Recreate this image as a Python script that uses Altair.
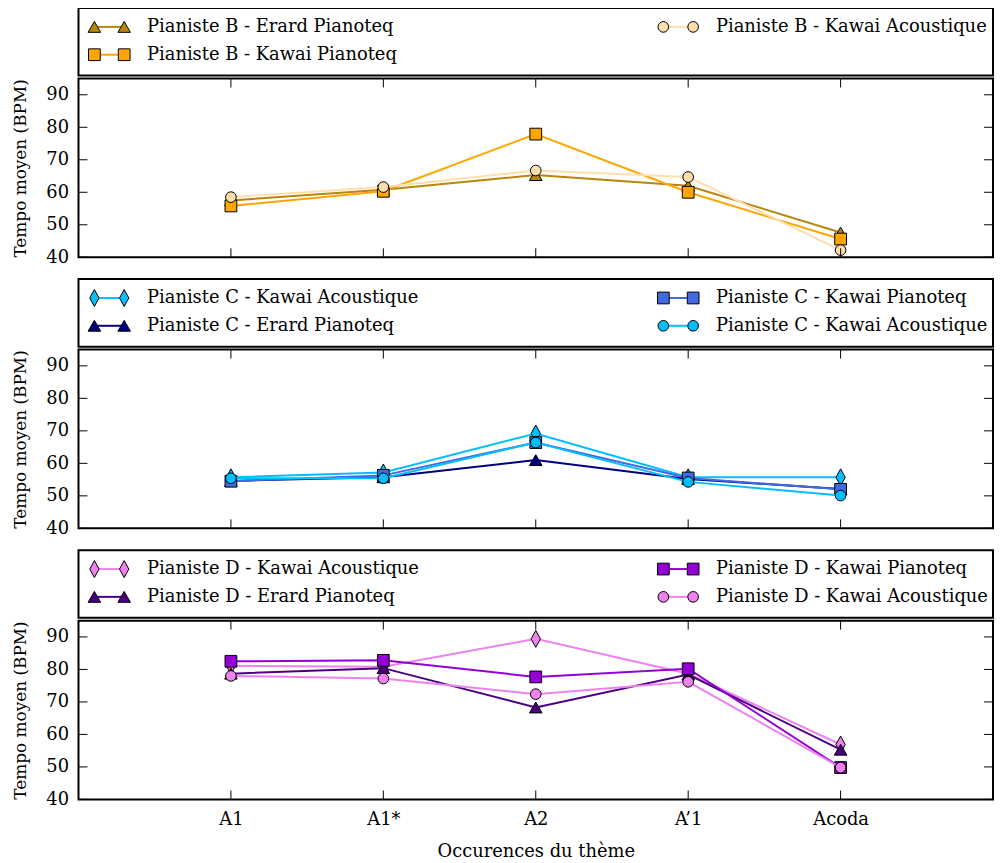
import altair as alt
import pandas as pd

categories = ["A1", "A1*", "A2", "A\u20191", "Acoda"]
y_ticks = [40, 50, 60, 70, 80, 90]

# Pianiste B
b_names = ["Pianiste B - Erard Pianoteq", "Pianiste B - Kawai Pianoteq", "Pianiste B - Kawai Acoustique"]
b_erard = [57.5, 60.8, 65.3, 62.0, 47.6]
b_kawai_pianoteq = [55.8, 60.3, 77.9, 60.0, 45.6]
b_kawai_acoustique = [58.5, 61.6, 66.7, 64.7, 42.2]

# Pianiste C
c_names = ["Pianiste C - Kawai Acoustique", "Pianiste C - Erard Pianoteq",
           "Pianiste C - Kawai Pianoteq", "Pianiste C - Kawai Acoustique"]
c_kawai_acoustique_1 = [55.7, 57.2, 69.2, 55.7, 55.7]
c_erard = [54.6, 55.7, 61.0, 55.2, 52.1]
c_kawai_pianoteq = [54.5, 56.3, 66.4, 55.5, 52.0]
c_kawai_acoustique_2 = [55.4, 55.4, 66.4, 54.3, 50.1]

# Pianiste D
d_names = ["Pianiste D - Kawai Acoustique", "Pianiste D - Erard Pianoteq",
           "Pianiste D - Kawai Pianoteq", "Pianiste D - Kawai Acoustique"]
d_kawai_acoustique_1 = [81.1, 80.8, 89.4, 78.7, 56.9]
d_erard = [78.7, 80.4, 68.3, 78.4, 55.3]
d_kawai_pianoteq = [82.5, 82.8, 77.7, 80.2, 49.8]
d_kawai_acoustique_2 = [78.0, 77.2, 72.4, 76.2, 49.8]

# styles (kept apart from the data)
DIAMOND = "M0,-1L0.55,0L0,1L-0.55,0Z"
styles = {
    "B": [("triangle-up", "#B8860B", 160), ("square", "#FFA500", 140), ("circle", "#FFDEAD", 115)],
    "C": [(DIAMOND, "#00BFFF", 290), ("triangle-up", "#000080", 160),
          ("square", "#4169E1", 140), ("circle", "#00BFFF", 115)],
    "D": [(DIAMOND, "#EE82EE", 290), ("triangle-up", "#4B0082", 160),
          ("square", "#9400D3", 140), ("circle", "#EE82EE", 115)],
}
panels = [
    ("B", b_names, [b_erard, b_kawai_pianoteq, b_kawai_acoustique]),
    ("C", c_names, [c_kawai_acoustique_1, c_erard, c_kawai_pianoteq, c_kawai_acoustique_2]),
    ("D", d_names, [d_kawai_acoustique_1, d_erard, d_kawai_pianoteq, d_kawai_acoustique_2]),
]

W, H, LH = 921, 180, 68
FONT = "DejaVu Serif"
FS = 18
TITLE_FS = 17
TICK = 9
Y_TITLE = "Tempo moyen (BPM)"

rows = []
for pid, names, series in panels:
    for i, (name, vals) in enumerate(zip(names, series)):
        for c, v in zip(categories, vals):
            rows.append({"panel": pid, "key": f"{pid}{i}", "label": name, "category": c, "value": v})
df = pd.DataFrame(rows)

yscale = alt.Scale(domain=[40, 95], nice=False, zero=False)
xscale = alt.Scale(type="point", padding=1, domain=categories)


def x_enc(show):
    if show:
        ax = alt.Axis(title="Occurences du th\u00e8me", labelAngle=0, ticks=False, tickSize=0,
                      domain=False, grid=False, labelPadding=11, titlePadding=14,
                      labelFontSize=FS, titleFontSize=FS)
    else:
        ax = None
    return alt.X("category:N", sort=categories, scale=xscale, axis=ax)


def y_enc(field):
    return alt.Y(f"{field}:Q", scale=yscale,
                 axis=alt.Axis(title=Y_TITLE, values=y_ticks, ticks=False, tickSize=0,
                               domain=False, grid=False, labelPadding=10, titlePadding=16,
                               labelFontSize=FS, titleFontSize=TITLE_FS))


def plot_panel(pid, names, show_x):
    layers = []
    sub = df[df.panel == pid]
    for i, name in enumerate(names):
        shape, color, size = styles[pid][i]
        base = alt.Chart(sub).transform_filter(alt.datum.key == f"{pid}{i}")
        layers.append(base.mark_line(color=color, strokeWidth=2).encode(x=x_enc(show_x), y=y_enc("value")))
        layers.append(base.mark_point(shape=shape, filled=True, fill=color, stroke="black",
                                      strokeWidth=1, size=size, opacity=1)
                      .encode(x=x_enc(show_x), y=y_enc("value")))
    yt = alt.Chart(pd.DataFrame({"v": y_ticks}))
    layers.append(yt.mark_rule(color="black", strokeWidth=1).encode(
        y=y_enc("v"), x=alt.value(0), x2=alt.value(TICK)))
    layers.append(yt.mark_rule(color="black", strokeWidth=1).encode(
        y=y_enc("v"), x=alt.value(W), x2=alt.value(W - TICK)))
    xt = alt.Chart(pd.DataFrame({"category": categories}))
    layers.append(xt.mark_rule(color="black", strokeWidth=1).encode(
        x=x_enc(show_x), y=alt.value(0), y2=alt.value(TICK)))
    layers.append(xt.mark_rule(color="black", strokeWidth=1).encode(
        x=x_enc(show_x), y=alt.value(H), y2=alt.value(H - TICK)))
    return alt.layer(*layers).properties(width=W, height=H)


def legend_panel(pid, names):
    n = len(names)
    ldf = pd.DataFrame({"label": names, "col": [i // 2 for i in range(n)],
                        "row": [i % 2 for i in range(n)], "key": [f"{pid}{i}" for i in range(n)]})
    lx = alt.X("col:Q", scale=alt.Scale(domain=[0, 1], range=[16, 589]), axis=None)
    # invisible axis so the legend box lines up with the plot areas
    ly = alt.Y("row:Q", scale=alt.Scale(domain=[0, 1], range=[19, 47]),
               axis=alt.Axis(title="T", titleColor="transparent", labelColor="transparent",
                             labelExpr="'90'", values=[0, 1], ticks=False, tickSize=0,
                             domain=False, grid=False, labelPadding=10, titlePadding=16,
                             labelFontSize=FS, titleFontSize=TITLE_FS))
    layers = []
    for i in range(n):
        shape, color, size = styles[pid][i]
        base = alt.Chart(ldf).transform_filter(alt.datum.key == f"{pid}{i}")
        layers.append(base.mark_rule(color=color, strokeWidth=2, x2Offset=30).encode(
            x=lx, x2=alt.X2("col"), y=ly))
        for off in (0, 30):
            layers.append(base.mark_point(shape=shape, filled=True, fill=color, stroke="black",
                                          strokeWidth=1, size=size, opacity=1, xOffset=off)
                          .encode(x=lx, y=ly))
    layers.append(alt.Chart(ldf).mark_text(align="left", baseline="middle", dx=53,
                                           font=FONT, fontSize=FS, color="black")
                  .encode(x=lx, y=ly, text="label:N"))
    return alt.layer(*layers).properties(width=W, height=LH)


groups = []
for k, (pid, names, _) in enumerate(panels):
    groups.append(alt.vconcat(legend_panel(pid, names), plot_panel(pid, names, k == 2),
                              spacing=0))

chart = alt.vconcat(*groups, spacing=11).properties(
    padding={"left": 3, "top": -4, "right": 0, "bottom": 0}
).configure_view(stroke="black", strokeWidth=2).configure_axis(
    labelFont=FONT, titleFont=FONT, labelColor="black", titleColor="black",
    titleFontWeight="normal"
)

chart.save("out.html", embed_options={"renderer": "svg", "actions": False})
